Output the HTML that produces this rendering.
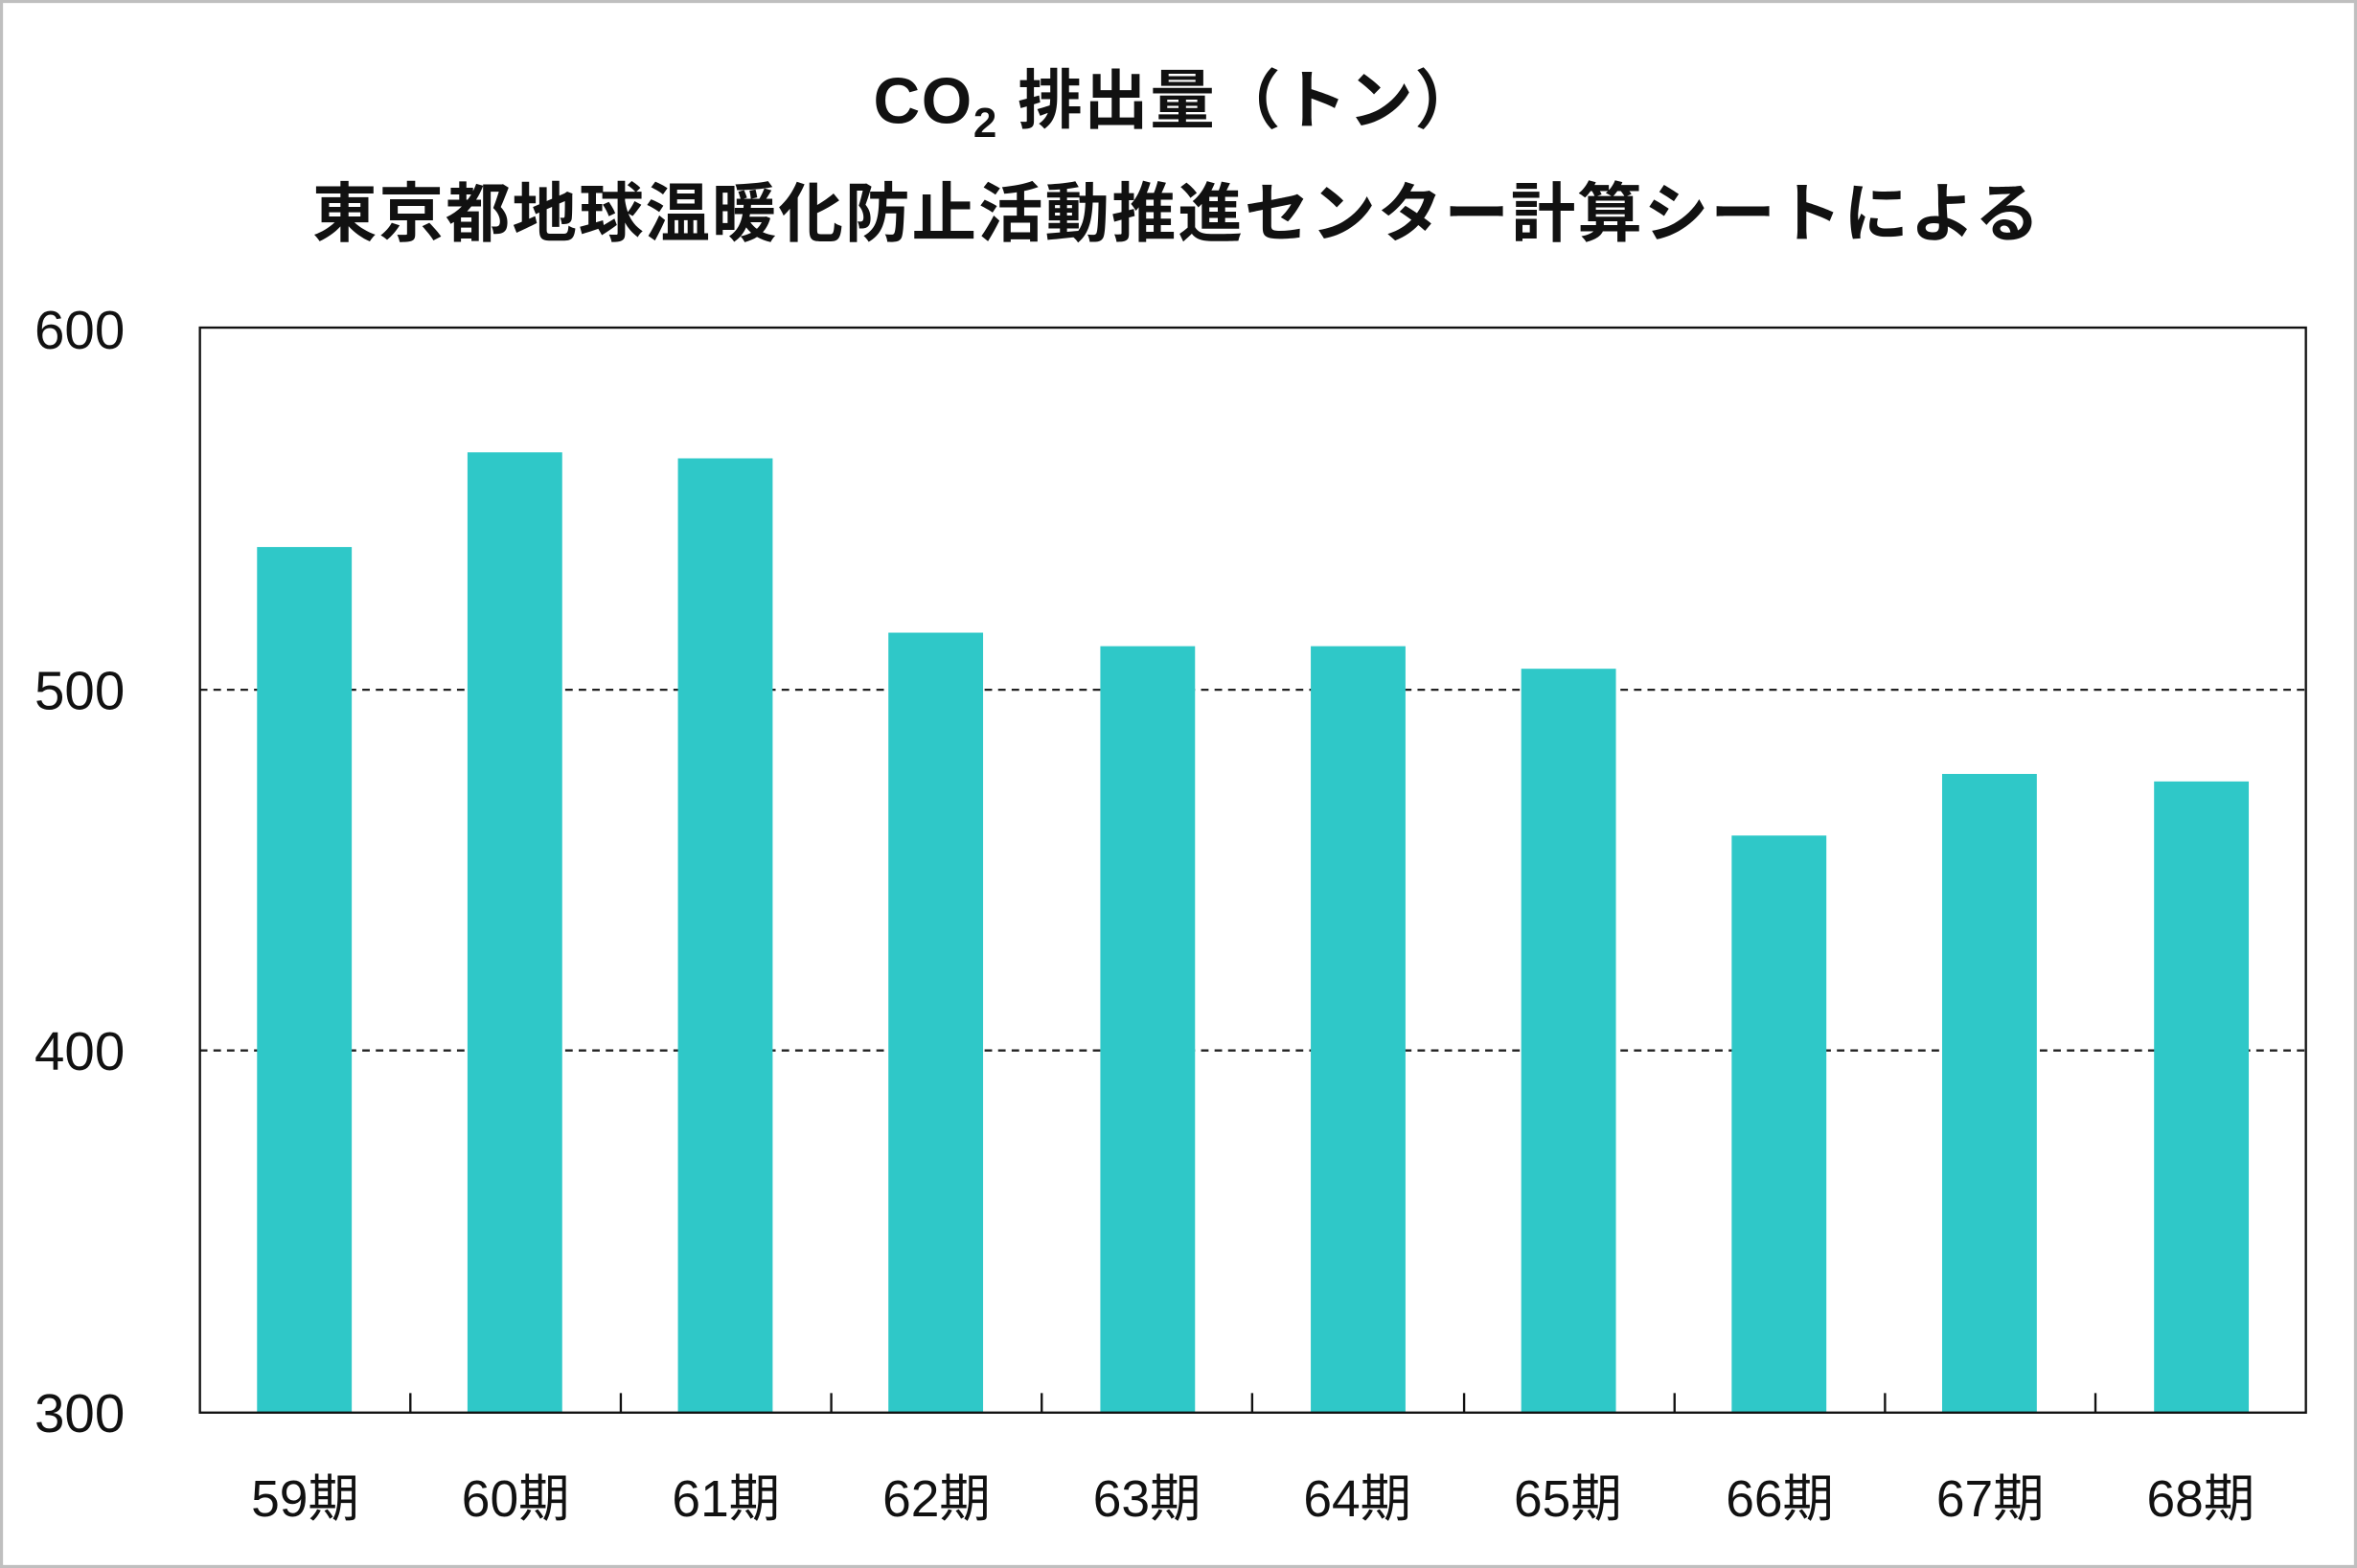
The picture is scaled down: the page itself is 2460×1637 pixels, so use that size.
<!DOCTYPE html>
<html><head><meta charset="utf-8"><style>
html,body{margin:0;padding:0;background:#fff}
svg{display:block}
text{font-family:"Liberation Sans","Noto Sans CJK JP",sans-serif}
</style></head><body>
<svg width="2460" height="1637" viewBox="0 0 1568 1043.4" preserveAspectRatio="none" xmlns="http://www.w3.org/2000/svg">
<rect x="0" y="0" width="1568" height="1043.4" fill="#fff"/>
<rect x="1" y="1" width="1566" height="1041.4" fill="none" stroke="#bfbfbf" stroke-width="2"/>
<text x="783" y="82" text-anchor="middle" font-size="43" font-weight="700" fill="#111" letter-spacing="1">CO<tspan font-size="28" dy="9">2</tspan><tspan dy="-9"> 排出量（トン）</tspan></text>
<text x="783" y="157" text-anchor="middle" font-size="43" font-weight="700" fill="#111" letter-spacing="1.3">東京都地球温暖化防止活動推進センター計算シートによる</text>
<line x1="133" y1="459" x2="1534" y2="459" stroke="#222" stroke-width="1.5" stroke-dasharray="5,4"/>
<line x1="133" y1="699" x2="1534" y2="699" stroke="#222" stroke-width="1.5" stroke-dasharray="5,4"/>
<g fill="#2fc8c8">
<rect x="171" y="364" width="63" height="576"/>
<rect x="311" y="301" width="63" height="639"/>
<rect x="451" y="305" width="63" height="635"/>
<rect x="591" y="421" width="63" height="519"/>
<rect x="732" y="430" width="63" height="510"/>
<rect x="872" y="430" width="63" height="510"/>
<rect x="1012" y="445" width="63" height="495"/>
<rect x="1152" y="556" width="63" height="384"/>
<rect x="1292" y="515" width="63" height="425"/>
<rect x="1433" y="520" width="63" height="420"/>
</g>
<rect x="133" y="218" width="1401" height="722" fill="none" stroke="#111" stroke-width="1.5"/>
<g stroke="#111" stroke-width="1.5">
<line x1="273" y1="927" x2="273" y2="940"/><line x1="413" y1="927" x2="413" y2="940"/>
<line x1="553" y1="927" x2="553" y2="940"/><line x1="693" y1="927" x2="693" y2="940"/>
<line x1="833" y1="927" x2="833" y2="940"/><line x1="974" y1="927" x2="974" y2="940"/>
<line x1="1114" y1="927" x2="1114" y2="940"/><line x1="1254" y1="927" x2="1254" y2="940"/>
<line x1="1394" y1="927" x2="1394" y2="940"/>
</g>
<g font-size="36" fill="#111" text-anchor="middle">
<text x="53" y="232">600</text><text x="53" y="472">500</text>
<text x="53" y="712">400</text><text x="53" y="953">300</text>
</g>
<g font-size="34" fill="#111" text-anchor="middle">
<text x="203" y="1009">59期</text><text x="343" y="1009">60期</text>
<text x="483" y="1009">61期</text><text x="623" y="1009">62期</text>
<text x="763" y="1009">63期</text><text x="903" y="1009">64期</text>
<text x="1043" y="1009">65期</text><text x="1184" y="1009">66期</text>
<text x="1324" y="1009">67期</text><text x="1464" y="1009">68期</text>
</g>
</svg>
</body></html>
